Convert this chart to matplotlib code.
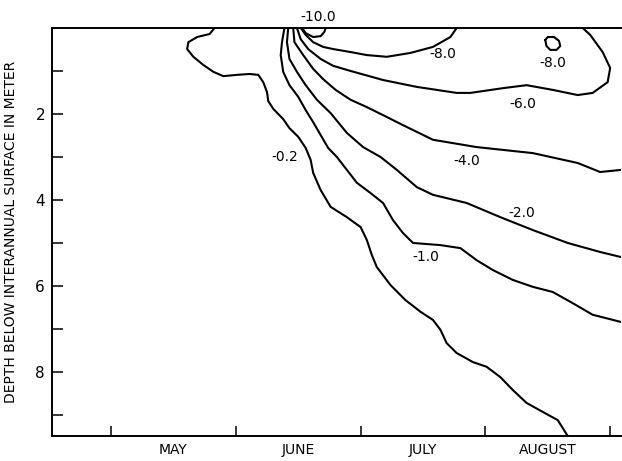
import matplotlib
matplotlib.use("Agg")
import matplotlib.pyplot as plt
from matplotlib.ticker import FixedLocator

# x is in months (5 = 1 May, 6 = 1 June, ...), depth in metres below surface
c02_x = [5.83, 5.79, 5.69, 5.62, 5.61, 5.66, 5.74, 5.82, 5.90, 6.01, 6.11, 6.18,
         6.22, 6.25, 6.26, 6.30, 6.38, 6.43, 6.50, 6.56, 6.60, 6.62, 6.68, 6.76,
         6.89, 7.00, 7.05, 7.09, 7.13, 7.24, 7.36, 7.48, 7.58, 7.64, 7.69, 7.77,
         7.90, 8.01, 8.12, 8.22, 8.33, 8.46, 8.58, 8.66]
c02_d = [0.00, 0.14, 0.21, 0.33, 0.49, 0.67, 0.86, 1.02, 1.12, 1.09, 1.07, 1.09,
         1.26, 1.49, 1.70, 1.88, 2.12, 2.33, 2.53, 2.79, 3.07, 3.37, 3.77, 4.16,
         4.40, 4.63, 4.93, 5.28, 5.56, 5.98, 6.33, 6.60, 6.79, 7.02, 7.33, 7.56,
         7.77, 7.88, 8.12, 8.42, 8.72, 8.93, 9.12, 9.49]

c10_x = [6.39, 6.37, 6.36, 6.38, 6.43, 6.50, 6.56, 6.62, 6.68, 6.74, 6.81, 6.89,
         6.97, 7.08, 7.18, 7.26, 7.34, 7.42, 7.64, 7.80, 7.93, 8.06, 8.22, 8.38,
         8.54, 8.70, 8.86, 9.09]
c10_d = [0.00, 0.33, 0.63, 1.02, 1.33, 1.60, 1.91, 2.19, 2.49, 2.79, 3.00, 3.30,
         3.60, 3.84, 4.07, 4.47, 4.77, 5.00, 5.05, 5.12, 5.40, 5.63, 5.86, 6.02,
         6.14, 6.40, 6.67, 6.84]

c20_x = [6.42, 6.41, 6.43, 6.49, 6.56, 6.65, 6.76, 6.89, 7.02, 7.16, 7.29, 7.45,
         7.58, 7.85, 8.12, 8.38, 8.66, 8.92, 9.09]
c20_d = [0.00, 0.33, 0.72, 1.02, 1.33, 1.67, 1.98, 2.44, 2.77, 3.00, 3.30, 3.70,
         3.88, 4.07, 4.40, 4.70, 5.00, 5.21, 5.33]

c40_x = [6.46, 6.47, 6.54, 6.62, 6.70, 6.80, 6.92, 7.05, 7.21, 7.34, 7.58, 7.93,
         8.38, 8.74, 8.92, 9.09]
c40_d = [0.00, 0.33, 0.63, 0.95, 1.19, 1.44, 1.67, 1.84, 2.07, 2.26, 2.60, 2.77,
         2.91, 3.14, 3.35, 3.30]

c60_x = [6.49, 6.52, 6.58, 6.68, 6.78, 6.92, 7.18, 7.45, 7.77, 7.88, 8.14, 8.33,
         8.54, 8.74, 8.86, 8.98, 9.00, 8.94, 8.84, 8.78]
c60_d = [0.00, 0.26, 0.49, 0.72, 0.88, 1.00, 1.21, 1.37, 1.51, 1.51, 1.40, 1.33,
         1.44, 1.56, 1.51, 1.26, 0.93, 0.56, 0.16, 0.00]

c80_x = [6.52, 6.56, 6.62, 6.70, 6.78, 6.92, 7.05, 7.21, 7.40, 7.58, 7.72, 7.77]
c80_d = [0.00, 0.16, 0.33, 0.44, 0.49, 0.56, 0.63, 0.67, 0.58, 0.44, 0.21, 0.00]

c80b_x = [8.48, 8.50, 8.55, 8.59, 8.60, 8.57, 8.52, 8.49, 8.48]
c80b_d = [0.28, 0.21, 0.21, 0.30, 0.42, 0.51, 0.51, 0.42, 0.28]

c100_x = [6.53, 6.56, 6.62, 6.68, 6.71, 6.72]
c100_d = [0.00, 0.12, 0.21, 0.19, 0.09, 0.00]

contours = [(c02_x, c02_d), (c10_x, c10_d), (c20_x, c20_d), (c40_x, c40_d),
            (c60_x, c60_d), (c80_x, c80_d), (c80b_x, c80b_d), (c100_x, c100_d)]

label_text = ["-10.0", "-8.0", "-8.0", "-6.0", "-4.0", "-2.0", "-1.0", "-0.2"]
label_x = [6.66, 7.66, 8.54, 8.30, 7.85, 8.29, 7.52, 6.39]
label_d = [-0.26, 0.60, 0.81, 1.77, 3.09, 4.30, 5.33, 3.00]

month_names = ["MAY", "JUNE", "JULY", "AUGUST"]
month_starts = [5, 6, 7, 8, 9]

fig = plt.figure(figsize=(6.22, 4.61), dpi=100)
ax = fig.add_axes([0.0836, 0.0542, 0.915, 0.8851])

for xs, ds in contours:
    ax.plot(xs, ds, color="black", lw=1.5, solid_capstyle="round",
            solid_joinstyle="round")

for t, x, d in zip(label_text, label_x, label_d):
    ax.text(x, d, t, ha="center", va="center", fontsize=10, clip_on=False)

ax.set_xlim(4.527, 9.088)
ax.set_ylim(9.49, 0)

ax.spines["right"].set_visible(False)
for s in ["left", "top", "bottom"]:
    ax.spines[s].set_linewidth(1.4)

ax.xaxis.set_major_locator(FixedLocator(month_starts))
ax.xaxis.set_minor_locator(FixedLocator([m + 0.5 for m in month_starts[:-1]]))
ax.set_xticklabels([], minor=False)
ax.set_xticklabels(month_names, minor=True, fontsize=10)
ax.tick_params(axis="x", which="major", direction="in", length=7, width=1.1)
ax.tick_params(axis="x", which="minor", length=0, pad=5)

ax.yaxis.set_major_locator(FixedLocator([2, 4, 6, 8]))
ax.yaxis.set_minor_locator(FixedLocator([1, 3, 5, 7, 9]))
ax.tick_params(axis="y", which="both", direction="in", length=8, width=1.1,
               labelsize=11, pad=5)

ax.set_ylabel("DEPTH BELOW INTERANNUAL SURFACE IN METER", fontsize=10)
ax.yaxis.set_label_coords(-0.06, 0.5)

fig.savefig("out.png", dpi=100)
